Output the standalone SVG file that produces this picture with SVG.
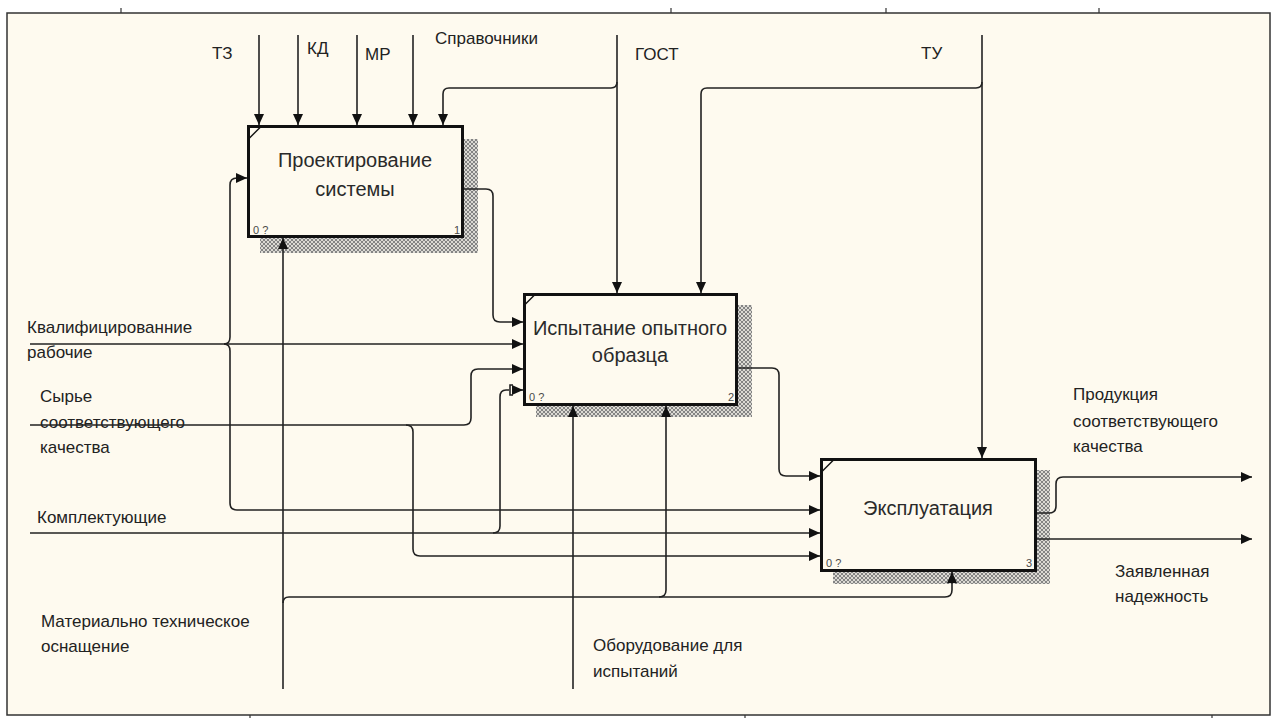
<svg xmlns="http://www.w3.org/2000/svg" width="1276" height="718" viewBox="0 0 1276 718">
<defs>
<pattern id="hatch" width="4" height="4" patternUnits="userSpaceOnUse">
<rect width="4" height="4" fill="#dcdad4"/>
<path d="M0,0 L4,4 M4,0 L0,4" stroke="#7a7a7a" stroke-width="0.9"/>
</pattern>
<marker id="ah" markerWidth="12" markerHeight="10" refX="11" refY="5" orient="auto" markerUnits="userSpaceOnUse">
<path d="M0,0 L11,5 L0,10 Z" fill="#111"/>
</marker>
<style>
.frame{fill:#fefaef;stroke:#333;stroke-width:1.5}
.box{fill:#fefaef;stroke:#111;stroke-width:3}
.shadow{fill:url(#hatch)}
.corner{stroke:#111;stroke-width:1.5;fill:none}
.c{fill:none;stroke:#222;stroke-width:1.6}
.a{marker-end:url(#ah)}
.lbl{font-family:"Liberation Sans",Arial,sans-serif;font-size:17px;fill:#222}
.big{font-family:"Liberation Sans",Arial,sans-serif;font-size:17px;fill:#222}
.bt{font-family:"Liberation Sans",Arial,sans-serif;font-size:20px;fill:#2a2a2a;text-anchor:middle}
.num{font-family:"Liberation Sans",Arial,sans-serif;font-size:11px;fill:#4a4a4a}
.tick{stroke:#333;stroke-width:1.2}
</style>
</defs>
<rect width="1276" height="718" fill="#ffffff"/>
<rect class="frame" x="7" y="13" width="1263" height="702"/>
<g id="ticks">
<line class="tick" x1="121" y1="8" x2="121" y2="13"/>
<line class="tick" x1="671" y1="8" x2="671" y2="13"/>
<line class="tick" x1="886" y1="8" x2="886" y2="13"/>
<line class="tick" x1="1099" y1="8" x2="1099" y2="13"/>
<line class="tick" x1="250" y1="715" x2="250" y2="718"/>
<line class="tick" x1="745" y1="715" x2="745" y2="718"/>
<line class="tick" x1="1212" y1="715" x2="1212" y2="718"/>
</g>
<g id="box1">
<rect class="shadow" x="260" y="139" width="218" height="114"/>
<rect class="box" x="248.5" y="126.5" width="214" height="110"/>
<path class="corner" d="M248.5,139 L261,126.5"/>
<text class="bt" x="355" y="167">Проектирование</text>
<text class="bt" x="355" y="196">системы</text>
<text class="num" x="253" y="234">0 ?</text>
<text class="num" x="454" y="234">1</text>
</g>
<g id="box2">
<rect class="shadow" x="536" y="305" width="216" height="112"/>
<rect class="box" x="524.5" y="294.5" width="212" height="110"/>
<path class="corner" d="M524.5,305 L535,294.5"/>
<text class="bt" x="630" y="335">Испытание опытного</text>
<text class="bt" x="630" y="362">образца</text>
<text class="num" x="529" y="401">0 ?</text>
<text class="num" x="728" y="401">2</text>
</g>
<g id="box3">
<rect class="shadow" x="833" y="470" width="217" height="114"/>
<rect class="box" x="821.5" y="459.5" width="214" height="111"/>
<path class="corner" d="M821.5,472 L834,459.5"/>
<text class="bt" x="928" y="515">Эксплуатация</text>
<text class="num" x="826" y="567">0 ?</text>
<text class="num" x="1026" y="567">3</text>
</g>
<g id="connectors">
<path class="c a" d="M259,35 V125"/>
<path class="c a" d="M298,35 V125"/>
<path class="c a" d="M357,35 V125"/>
<path class="c a" d="M413,35 V125"/>
<path class="c a" d="M617,35 V293"/>
<path class="c a" d="M617,82 Q617,88 611,88 H449 Q443,88 443,94 V125"/>
<path class="c a" d="M982,35 V458"/>
<path class="c a" d="M982,82 Q982,88 976,88 H707 Q701,88 701,94 V293"/>
<path class="c a" d="M464,189 H486 Q493,189 493,196 V315 Q493,322 500,322 H523"/>
<path class="c a" d="M738,368 H772 Q779,368 779,375 V469 Q779,476 786,476 H820"/>
<path class="c a" d="M30,344 H523"/>
<path class="c a" d="M224,344 Q230,344 230,337 V185 Q230,178 237,178 H247"/>
<path class="c a" d="M224,344 Q230,344 230,351 V503 Q230,510 237,510 H820"/>
<path class="c a" d="M30,425 H464 Q471,425 471,418 V376 Q471,369 478,369 H523"/>
<path class="c a" d="M406,425 Q413,425 413,432 V549 Q413,556 420,556 H820"/>
<path class="c a" d="M30,533 H820"/>
<path class="c" d="M493,533 Q500,533 500,526 V397 Q500,390 506,390 H509"/>
<path class="c a" d="M513,390 H523"/>
<path class="c" d="M513,385 H510 V395 H513"/>
<path class="c a" d="M283,689 V238"/>
<path class="c a" d="M283,603 Q283,597 289,597 H945 Q952,597 952,590 V572"/>
<path class="c a" d="M659,597 Q666,597 666,590 V406"/>
<path class="c a" d="M573,689 V406"/>
<path class="c a" d="M1037,513 H1049 Q1056,513 1056,506 V484 Q1056,477 1063,477 H1252"/>
<path class="c a" d="M1037,539 H1252"/>
</g>
<g id="labels">
<text class="big" x="212" y="59">ТЗ</text>
<text class="big" x="307" y="54">КД</text>
<text class="big" x="365" y="60">МР</text>
<text class="lbl" x="435" y="44">Справочники</text>
<text class="big" x="635" y="60">ГОСТ</text>
<text class="big" x="921" y="59">ТУ</text>
<text class="lbl" x="27" y="333">Квалифицированние</text>
<text class="lbl" x="27" y="358">рабочие</text>
<text class="lbl" x="40" y="402">Сырье</text>
<text class="lbl" x="40" y="428">соответствующего</text>
<text class="lbl" x="40" y="453">качества</text>
<text class="lbl" x="37" y="523">Комплектующие</text>
<text class="lbl" x="41" y="627">Материально техническое</text>
<text class="lbl" x="41" y="652">оснащение</text>
<text class="lbl" x="593" y="651">Оборудование для</text>
<text class="lbl" x="593" y="677">испытаний</text>
<text class="lbl" x="1073" y="400">Продукция</text>
<text class="lbl" x="1073" y="427">соответствующего</text>
<text class="lbl" x="1073" y="452">качества</text>
<text class="lbl" x="1115" y="577">Заявленная</text>
<text class="lbl" x="1115" y="602">надежность</text>
</g>
</svg>
